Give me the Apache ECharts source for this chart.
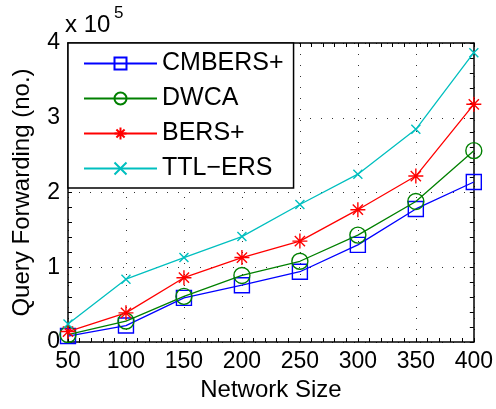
<!DOCTYPE html>
<html><head><meta charset="utf-8">
<script src="https://cdn.jsdelivr.net/npm/echarts@6/dist/echarts.min.js"></script>
<style>html,body{margin:0;padding:0;background:#fff}#c{width:496px;height:409px}</style>
</head><body><div id="c"></div>
<script>
// Network sizes (x) and query forwarding counts in units of 10^5
const networkSizes = [50, 100, 150, 200, 250, 300, 350, 400];
const cmbersPlus = [0.08, 0.22, 0.59, 0.76, 0.94, 1.30, 1.78, 2.14];
const dwca = [0.10, 0.28, 0.61, 0.89, 1.08, 1.43, 1.88, 2.56];
const bersPlus = [0.14, 0.39, 0.86, 1.13, 1.35, 1.77, 2.22, 3.18];
const ttlErs = [0.24, 0.84, 1.13, 1.41, 1.84, 2.245, 2.845, 3.87];
const seriesNames = ['CMBERS+', 'DWCA', 'BERS+', 'TTL\u2212ERS'];
const xTickLabels = ['50', '100', '150', '200', '250', '300', '350', '400'];
const yTickLabels = ['0', '1', '2', '3', '4'];

const FF = "'Liberation Sans', Arial, sans-serif";
const colors = ['#0000ff', '#008000', '#ff0000', '#00bfbf'];
const symbols = [
  'path://M0,0L10,0L10,10L0,10Z',
  'circle',
  'path://M5,0L5,10M0,5L10,5M1.6,1.6L8.4,8.4M1.6,8.4L8.4,1.6',
  'path://M0,0L10,10M0,10L10,0'
];
const symSizes = [15, 16, 15, 9];
const datasets = [cmbersPlus, dwca, bersPlus, ttlErs];

const chart = echarts.init(document.getElementById('c'), null, {renderer: 'canvas'});

function makeX(pos, showLabel) {
  return {
    type: 'value', position: pos, min: 50, max: 400, interval: 50,
    axisLine: {show: true, onZero: false, lineStyle: {color: '#000', width: 1.5}},
    axisTick: {show: true, inside: true, length: 4, lineStyle: {color: '#000', width: 1}},
    minorTick: {show: true, splitNumber: 5, length: 4, lineStyle: {color: '#000', width: 1}},
    axisLabel: {show: showLabel, fontSize: 23, color: '#000', fontFamily: FF, margin: 8,
      formatter: v => xTickLabels[networkSizes.indexOf(v)] ?? String(v)},
    splitLine: {show: showLabel, lineStyle: {color: '#333', width: 1, type: [1, 10]}},
    name: showLabel ? 'Network Size' : '',
    nameLocation: 'middle', nameGap: 36,
    nameTextStyle: {fontSize: 24, color: '#000', fontFamily: FF}
  };
}
function makeY(pos, showLabel) {
  return {
    type: 'value', position: pos, min: 0, max: 4, interval: 1,
    axisLine: {show: true, onZero: false, lineStyle: {color: '#000', width: 1.5}},
    axisTick: {show: true, inside: true, length: 4, lineStyle: {color: '#000', width: 1}},
    minorTick: {show: true, splitNumber: 5, length: 4, lineStyle: {color: '#000', width: 1}},
    axisLabel: {show: showLabel, fontSize: 23, color: '#000', fontFamily: FF, margin: 8,
      formatter: v => yTickLabels[v] ?? String(v)},
    splitLine: {show: showLabel, lineStyle: {color: '#333', width: 1, type: [1, 10]}},
    name: showLabel ? 'Query Forwarding (no.)' : '',
    nameLocation: 'middle', nameGap: 34,
    nameTextStyle: {fontSize: 24, color: '#000', fontFamily: FF}
  };
}

const option = {
  backgroundColor: '#fff',
  animation: false,
  grid: {left: 68, right: 22, top: 43, bottom: 67, containLabel: false},
  xAxis: [makeX('bottom', true), makeX('top', false)],
  yAxis: [makeY('left', true), makeY('right', false)],
  legend: {
    orient: 'vertical', left: 68, top: 43,
    padding: [8, 10, 7, 15], itemGap: 10,
    itemWidth: 73, itemHeight: 15,
    backgroundColor: '#fff', borderColor: '#000', borderWidth: 1.5,
    textStyle: {fontSize: 25, color: '#000', fontFamily: FF},
    data: seriesNames
  },
  graphic: [
    {type: 'text', left: 65, top: 13, style: {text: 'x 10', fontSize: 24, fontFamily: FF, fill: '#000'}},
    {type: 'text', left: 114, top: 5, style: {text: '5', fontSize: 17, fontFamily: FF, fill: '#000'}}
  ],
  series: seriesNames.map((n, i) => ({
    name: n, type: 'line', xAxisIndex: 0, yAxisIndex: 0,
    data: networkSizes.map((x, k) => [x, datasets[i][k]]),
    symbol: symbols[i], symbolSize: symSizes[i],
    showAllSymbol: true,
    lineStyle: {color: colors[i], width: 1.3},
    itemStyle: {color: 'none', borderColor: colors[i], borderWidth: 1.4},
    emphasis: {disabled: true},
    z: 3 + i
  }))
};
chart.setOption(option);
</script>
</body></html>
